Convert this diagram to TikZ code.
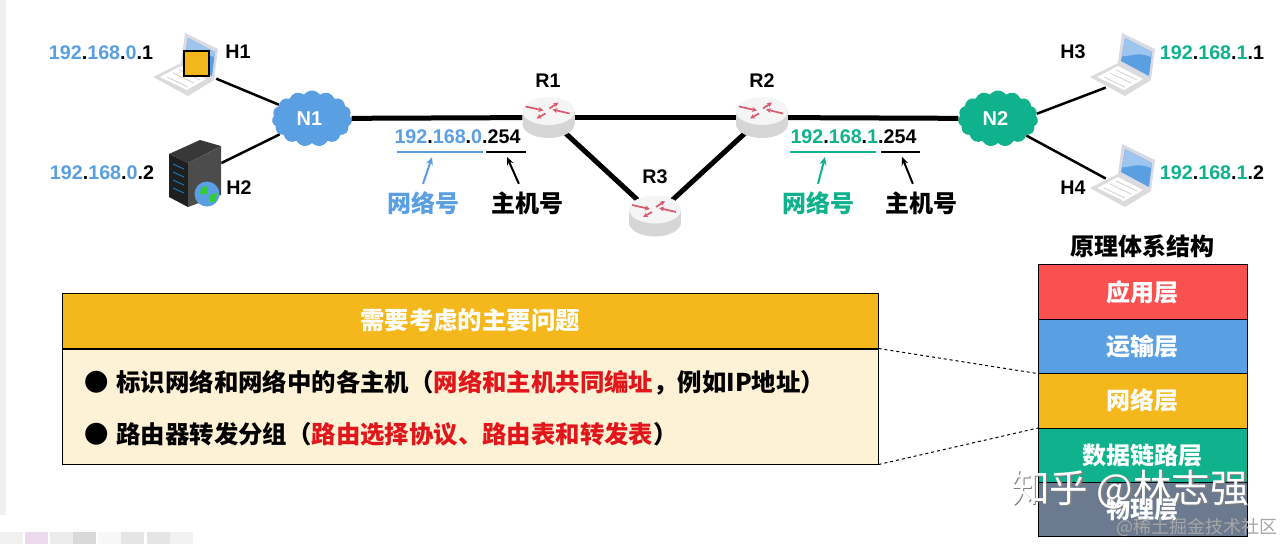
\documentclass[tikz,border=0pt]{standalone}
\usepackage{fontspec}
\setmainfont{Liberation Sans}
\newfontfamily\cjk{Noto Sans CJK SC}
\usetikzlibrary{positioning,arrows.meta,shapes.geometric,shapes.symbols}
\definecolor{azulred}{HTML}{5B9FE3}
\definecolor{verdered}{HTML}{0FB28C}
\definecolor{oro}{HTML}{F4B81C}
\definecolor{crema}{HTML}{FDF1D6}
\definecolor{rojocapa}{HTML}{F95050}
\definecolor{rojotexto}{HTML}{E2161A}
\definecolor{pizarra}{HTML}{6C7A8F}
\definecolor{rosaflecha}{HTML}{D85A6E}
\newcommand{\ipaddr}[5]{\textcolor{#1}{#2}.\textcolor{#1}{#3}.\textcolor{#1}{#4}.#5}
\tikzset{
  etiqueta/.style={font=\fontsize{19.7}{24}\selectfont\bfseries, inner sep=0pt},
  hanzi/.style={font=\fontsize{24}{28}\selectfont\cjk\bfseries, inner sep=0pt},
  hostbox/.style={rectangle, minimum width=48pt, minimum height=60pt, inner sep=0pt},
  routerbox/.style={ellipse, minimum width=52pt, minimum height=42pt, inner sep=0pt},
  netcloud/.style={cloud, cloud puffs=15, cloud puff arc=110, aspect=1.45, minimum width=80pt, minimum height=56pt,
    inner sep=0pt, text=white, font=\fontsize{20}{24}\selectfont\bfseries},
  layerbox/.style={rectangle, draw=black, line width=1pt, minimum width=209pt, minimum height=54.4pt, inner sep=0pt,
    outer sep=0pt, text=white, font=\fontsize{24}{28}\selectfont\cjk\bfseries},
  tiplabel/.style={hanzi, minimum height=38pt},
  enlace/.style={line width=2.5pt},
  troncal/.style={line width=5pt},
  flechita/.style={-{Stealth[length=8pt,width=7pt]}, line width=2pt},
  flecharosa/.style={-{Stealth[length=5pt,width=5pt]}, draw=rosaflecha, line width=1.7pt},
  laptop/.pic={
    \fill[gray!28] (-32,12) -- (-4,-2) -- (29,15) -- (3,31) -- cycle;
    \fill[white] (-25,12) -- (-4,1) -- (21,14) -- (2,25) -- cycle;
    \draw[gray!40, line width=.7pt] (-18,12) -- (3,22) (-12,8) -- (9,18) (-6,5) -- (15,15);
    \fill[blue!15!gray!25] (0,-32) -- (33,-16) -- (29,15) -- (-4,-2) -- cycle;
    \fill[azulred] (3,-27) -- (30,-13) -- (27,11) -- (-1,-4) -- cycle;
    \fill[azulred!60] (3,-27) -- (30,-13) -- (29,-8) .. controls (15,-14) and (8,-8) .. (0,-9) -- cycle;
  },
  routericon/.pic={
    \fill[gray!32] (0,6.5) ellipse [x radius=26, y radius=14];
    \fill[gray!32] (-26,-6.5) rectangle (26,6.5);
    \fill[gray!8] (0,-6.5) ellipse [x radius=26, y radius=14];
    \draw[flecharosa] (-23,-11) -- (-5,-7);
    \draw[flecharosa] (-3,-4) -- (-12,1);
    \draw[flecharosa] (1,-9) -- (10,-15);
    \draw[flecharosa] (21,-4) -- (4,-8);
  },
  servericon/.pic={
    \fill[black!78] (-26,-24) -- (5,-38) -- (26,-32) -- (-7,-15) -- cycle;
    \fill[black!88] (-26,-24) -- (-7,-15) -- (-7,29) -- (-26,19) -- cycle;
    \fill[black!70] (-7,-15) -- (26,-32) -- (26,17) -- (-7,29) -- cycle;
    \foreach \yy in {-14,-6,2,10}
      \draw[cyan!70!blue, line width=.8pt] (-22,\yy) -- (-11,\yy+5);
    \fill[azulred] (12,16) circle (12.5);
    \fill[green!60!gray] (6,10) -- (13,8) -- (12,16) -- (5,16) -- cycle (15,17) -- (22,15) -- (20,24) -- (15,24) -- cycle;
  },
}
\begin{document}
\begin{tikzpicture}[x=1pt, y=-1pt]
    \useasboundingbox (0,0) rectangle (1283,544);
    % Screenshot edge
    \fill[gray!12] (0,0) rectangle (6,228);
    \fill[gray!12] (0,228) rectangle (6,515);
    \foreach \xx/\col in {0/gray!12, 25/violet!15, 50/gray!15, 73/gray!30, 98/gray!6, 121/gray!20, 147/gray!20, 170/gray!10}
      \fill[\col] (\xx,532) rectangle (\xx+23,544);
    % Networks
    \node[netcloud, fill=azulred] (N1) at (312,118.5) {\hspace*{-5pt}N1};
    \node[netcloud, fill=verdered] (N2) at (998,118.5) {\hspace*{-5pt}N2};
    % Hosts
    \node[hostbox] (H1) at (192,68.6) {};
    \node[hostbox] (H2) at (197,175) {};
    \node[hostbox] (H3) at (1130,78.4) {};
    \node[hostbox] (H4) at (1130,191.6) {};
    % Routers
    \node[routerbox] (R1) at (548.5,117.5) {};
    \node[routerbox] (R2) at (762,117.5) {};
    \node[routerbox] (R3) at (655,216) {};

    \draw[enlace] (H1) -- (N1);
    \draw[enlace] (H2) -- (N1);
    \draw[enlace] (N2.7) -- (H3);
    \draw[enlace] (N2.-31) -- (H4);
    \draw[troncal] (N1) -- (R1);
    \draw[troncal] (R1) -- (R2);
    \draw[troncal] (R2) -- (N2);
    \draw[troncal] (R1) -- (R3);
    \draw[troncal] (R3) -- (R2);

    % Icons
    \pic at (185,65) {laptop};
    \pic at (1122,65) {laptop};
    \pic at (1122,176) {laptop};
    \pic at (195,178) {servericon};
    \pic at (R1) {routericon};
    \pic at (R2) {routericon};
    \pic at (R3) {routericon};
    \node[rectangle, draw=black, line width=1.5pt, fill=oro, minimum size=25pt, inner sep=0pt] (tapa) at (196.5,63.5) {};

    % Names and addresses
    \node[etiqueta] (nH1) at (238,52) {H1};
    \node[etiqueta] (nH2) at (239,188) {H2};
    \node[etiqueta] (nH3) at (1073,52) {H3};
    \node[etiqueta] (nH4) at (1073,188) {H4};
    \node[etiqueta] (nR1) at (548,81) {R1};
    \node[etiqueta] (nR2) at (762,81) {R2};
    \node[etiqueta] (nR3) at (655,177) {R3};
    \node[etiqueta] (ip1) at (101,53) {\ipaddr{azulred}{192}{168}{0}{1}};
    \node[etiqueta] (ip2) at (102,173) {\ipaddr{azulred}{192}{168}{0}{2}};
    \node[etiqueta] (ip3) at (1212,53) {\ipaddr{verdered}{192}{168}{1}{1}};
    \node[etiqueta] (ip4) at (1212,173) {\ipaddr{verdered}{192}{168}{1}{2}};
    \node[etiqueta] (ipA) at (457.5,137) {\ipaddr{azulred}{192}{168}{0}{254}};
    \node[etiqueta] (ipB) at (853.5,137) {\ipaddr{verdered}{192}{168}{1}{254}};

    % Network and host parts
    \coordinate (redA) at (432,157);
    \coordinate (hostA) at (507,157);
    \coordinate (redB) at (825,157);
    \coordinate (hostB) at (902,157);
    \draw[azulred, line width=2pt] (397,152) -- (483,152);
    \draw[line width=2pt] (486,152) -- (526,152);
    \draw[verdered, line width=2pt] (790,152) -- (876,152);
    \draw[line width=2pt] (881,152) -- (920,152);
    \node[tiplabel, text=azulred] (labA) at (423,203) {网络号};
    \node[tiplabel] (labC) at (527,203) {主机号};
    \node[tiplabel, text=verdered] (labB) at (818,203) {网络号};
    \node[tiplabel] (labD) at (921,203) {主机号};
    \draw[flechita, azulred] (labA.north) -- (redA);
    \draw[flechita] (labC.113) -- (hostA);
    \draw[flechita, verdered] (labB.north) -- (redB);
    \draw[flechita] (labD.113) -- (hostB);

    % Issues box
    \node[rectangle, draw=black, line width=1pt, fill=oro, minimum width=816pt, minimum height=55pt, inner sep=0pt,
      text=white, font=\fontsize{24.4}{28}\selectfont\cjk\bfseries] (cabecera) at (470,320.5) {需要考虑的主要问题};
    \node[rectangle, draw=black, line width=1pt, fill=crema, minimum width=816pt, minimum height=115pt, inner sep=0pt,
      below=0pt of cabecera] (cuerpo) {};
    \node[hanzi, font=\fontsize{24.4}{28}\selectfont\cjk\bfseries, anchor=west] (item1) at (84,383) {●\hspace{8pt}标识网络和网络中的各主机（\textcolor{rojotexto}{网络和主机共同编址}，例如IP地址）};
    \node[hanzi, font=\fontsize{24.4}{28}\selectfont\cjk\bfseries, anchor=west] (item2) at (84,434) {●\hspace{8pt}路由器转发分组（\textcolor{rojotexto}{路由选择协议、路由表和转发表}）};

    % Layers
    \node[hanzi] (titulo) at (1142.5,246) {原理体系结构};
    \node[layerbox, fill=rojocapa] (apl) at (1142.5,292) {应用层};
    \node[layerbox, fill=azulred, below=0pt of apl] (tra) {运输层};
    \node[layerbox, fill=oro, below=0pt of tra] (net) {网络层};
    \node[layerbox, fill=verdered, below=0pt of net] (enl) {数据链路层};
    \node[layerbox, fill=pizarra, below=0pt of enl] (fis) {物理层};
    \draw[dashed, line width=1pt] (cuerpo.north east) -- (net.north west);
    \draw[dashed, line width=1pt] (cuerpo.south east) -- (net.south west);

    % Watermarks
    \node[font=\fontsize{38.5}{40}\selectfont\cjk, text=gray, inner sep=0pt] (marcasombra) at (1131.5,491) {知乎 @林志强};
    \node[font=\fontsize{38.5}{40}\selectfont\cjk, text=white, inner sep=0pt] (marca) at (1130,489.5) {知乎 @林志强};
    \node[font=\fontsize{18}{20}\selectfont\cjk, text=gray!70, inner sep=0pt] (marcados) at (1197,527) {@稀土掘金技术社区};
\end{tikzpicture}
\end{document}
